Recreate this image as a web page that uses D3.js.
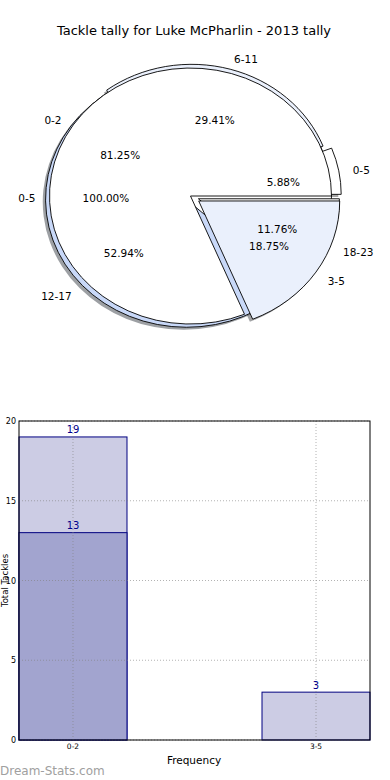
<!DOCTYPE html>
<html><head><meta charset="utf-8">
<script src="https://cdn.jsdelivr.net/npm/d3@7"></script>
<style>body{margin:0;background:#fff}svg{display:block}text{font-family:"DejaVu Sans",sans-serif}</style>
</head><body><svg id="c" width="390" height="780"></svg>
<script>
// ---------- data ----------
const chartTitle = "Tackle tally for Luke McPharlin - 2013 tally";
const pieAllLabels = ["0-5"];
const pieAllValues = [1];
const pieQuarterLabels = ["0-5", "6-11", "12-17", "18-23"];
const pieQuarterValues = [1, 5, 9, 2];
const pieGroupLabels = ["0-2", "3-5"];
const pieGroupValues = [13, 3];
const barCategories = ["0-2", "3-5"];
const barTotals = [19, 3];
const barSubset = [13, null];
const yTickValues = [0, 5, 10, 15, 20];
const xAxisTitle = "Frequency";
const yAxisTitle = "Total Tackles";
const watermark = "Dream-Stats.com";

// ---------- style ----------
const palette = ["#ffffff", "#eaf0fc", "#c8d8f8", "#ffffff"];
const layers = [
  {labels: pieAllLabels, values: pieAllValues, explode: [0]},
  {labels: pieQuarterLabels, values: pieQuarterValues, explode: [0.07, 0.03, 0.04, 0.06]},
  {labels: pieGroupLabels, values: pieGroupValues, explode: [0, 0.07]}
];

const svg = d3.select("#c");
svg.append("text").attr("x", 194).attr("y", 30).attr("text-anchor", "middle")
  .attr("dominant-baseline", "central").attr("font-size", 13).text(chartTitle);

// ---------- pie ----------
const cx = 190.5, cy = 196, rx = 141, ry = 128;
const pieGen = d3.pie().sort(null).startAngle(Math.PI / 2).endAngle(Math.PI / 2 - 2 * Math.PI);
const arcGen = d3.arc().innerRadius(0).outerRadius(1);

const built = layers.map(Ly => pieGen(Ly.values).map((a, i) => {
  const m = (a.startAngle + a.endAngle) / 2;
  const e = Ly.explode[i];
  return {a, i, m, label: Ly.labels[i], color: palette[i % palette.length],
    ox: e * Math.sin(m) * rx, oy: -e * Math.cos(m) * ry,
    pct: (a.value / d3.sum(Ly.values) * 100).toFixed(2) + "%"};
}));
const all = built.flat();

const gShadow = svg.append("g");
gShadow.selectAll("path").data(all).join("path")
  .attr("transform", d => `translate(${cx + d.ox - 0.02 * rx},${cy + d.oy + 0.02 * ry}) scale(${rx},${ry})`)
  .attr("d", d => arcGen(d.a))
  .attr("fill", d => { const c = d3.rgb(d.color); return d3.rgb(c.r * 0.3, c.g * 0.3, c.b * 0.3); })
  .attr("fill-opacity", 0.5).attr("stroke", "none");

const gWedge = svg.append("g");
gWedge.selectAll("path").data(all).join("path")
  .attr("transform", d => `translate(${cx + d.ox},${cy + d.oy}) scale(${rx},${ry})`)
  .attr("d", d => arcGen(d.a))
  .attr("fill", d => d.color).attr("stroke", "#000").attr("stroke-width", 0.9)
  .attr("vector-effect", "non-scaling-stroke").attr("stroke-linejoin", "miter");

const gText = svg.append("g").attr("font-size", 10.5);
gText.selectAll("text.lab").data(all).join("text").attr("class", "lab")
  .attr("x", d => cx + d.ox + 1.1 * Math.sin(d.m) * rx)
  .attr("y", d => cy + d.oy - 1.1 * Math.cos(d.m) * ry + 2)
  .attr("text-anchor", d => Math.sin(d.m) < 0 ? "end" : "start")
  .attr("dominant-baseline", "central").text(d => d.label);
gText.selectAll("text.pct").data(all).join("text").attr("class", "pct")
  .attr("x", d => cx + d.ox + 0.6 * Math.sin(d.m) * rx)
  .attr("y", d => cy + d.oy - 0.6 * Math.cos(d.m) * ry + 2)
  .attr("text-anchor", "middle")
  .attr("dominant-baseline", "central").text(d => d.pct);

// ---------- bars ----------
const L = 19, R = 370, T = 421, B = 740;
const x = d3.scaleBand().domain(barCategories).range([L, R]).paddingInner(0.5556).paddingOuter(0);
const y = d3.scaleLinear().domain([0, 20]).range([B, T]);

const gb = svg.append("g");
gb.selectAll("rect.tot").data(barCategories).join("rect").attr("class", "tot")
  .attr("x", c => x(c)).attr("width", x.bandwidth())
  .attr("y", (c, i) => y(barTotals[i])).attr("height", (c, i) => B - y(barTotals[i]))
  .attr("fill", "#ccccE4").attr("stroke", "#000080").attr("stroke-width", 1);
const subs = barCategories.map((c, i) => ({c, v: barSubset[i]})).filter(d => d.v != null);
gb.selectAll("rect.sub").data(subs).join("rect").attr("class", "sub")
  .attr("x", d => x(d.c)).attr("width", x.bandwidth())
  .attr("y", d => y(d.v)).attr("height", d => B - y(d.v))
  .attr("fill", "#a2a4cf").attr("stroke", "#000080").attr("stroke-width", 1);

// grid
const gg = svg.append("g").attr("stroke", "#808080").attr("stroke-opacity", 0.6)
  .attr("stroke-dasharray", "1,2").attr("stroke-width", 1);
gg.selectAll("line.h").data(yTickValues).join("line").attr("class", "h")
  .attr("x1", L).attr("x2", R).attr("y1", v => y(v)).attr("y2", v => y(v));
gg.selectAll("line.v").data(barCategories).join("line").attr("class", "v")
  .attr("x1", c => x(c) + x.bandwidth() / 2).attr("x2", c => x(c) + x.bandwidth() / 2)
  .attr("y1", T).attr("y2", B);

// frame
svg.append("rect").attr("x", L).attr("y", T).attr("width", R - L).attr("height", B - T)
  .attr("fill", "none").attr("stroke", "#000").attr("stroke-width", 1);

// ticks
const yAxis = d3.axisLeft(y).tickValues(yTickValues).tickSize(0).tickPadding(3);
svg.append("g").attr("transform", `translate(${L},0)`).call(yAxis)
  .call(g => g.select(".domain").remove())
  .selectAll("text").attr("font-size", 8).attr("font-family", "DejaVu Sans").attr("fill", "#000");
const xAxis = d3.axisBottom(x).tickSize(0).tickPadding(4);
svg.append("g").attr("transform", `translate(0,${B})`).call(xAxis)
  .call(g => g.select(".domain").remove())
  .selectAll("text").attr("font-size", 7.5).attr("font-family", "DejaVu Sans").attr("fill", "#000");

// value labels
const valLabels = barCategories.map((c, i) => ({c, v: barTotals[i]})).concat(subs);
svg.append("g").selectAll("text").data(valLabels).join("text")
  .attr("x", d => x(d.c) + x.bandwidth() / 2).attr("y", d => y(d.v) - 3.5)
  .attr("text-anchor", "middle").attr("font-size", 10).attr("fill", "#00008b").text(d => d.v);

svg.append("text").attr("x", 194).attr("y", 760).attr("text-anchor", "middle")
  .attr("dominant-baseline", "central").attr("font-size", 10.5).text(xAxisTitle);
svg.append("text").attr("transform", `translate(8,${(T + B) / 2}) rotate(-90)`)
  .attr("text-anchor", "middle").attr("font-size", 8.5).text(yAxisTitle);
svg.append("text").attr("x", 0).attr("y", 775).attr("font-size", 12).attr("fill", "#a0a0a0")
  .text(watermark);
</script></body></html>
